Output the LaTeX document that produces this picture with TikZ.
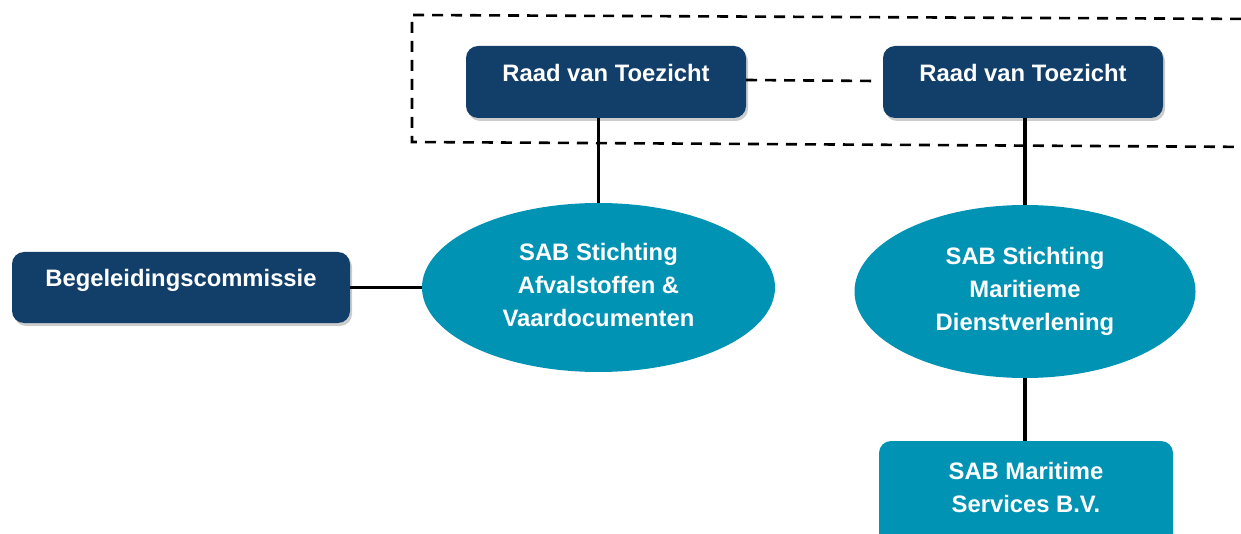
\documentclass[tikz,border=0pt]{standalone}
\usepackage{fontspec}
\setmainfont{Liberation Sans}
\usetikzlibrary{shapes.geometric,shadows}
\definecolor{navy}{HTML}{123F6A}
\definecolor{teal}{HTML}{0093B4}
\begin{document}
\begin{tikzpicture}[x=1pt,y=-1pt,
  lbl/.style={font=\fontsize{23.8}{33}\selectfont\bfseries, text=white, align=center},
  navybox/.style={lbl, fill=navy, rounded corners=12pt, inner sep=0pt,
    drop shadow={opacity=0.4, shadow xshift=2pt, shadow yshift=-3pt}},
  tealoval/.style={lbl, ellipse, fill=teal, inner sep=0pt},
  tealbox/.style={lbl, fill=teal, rounded corners=12pt, inner sep=0pt},
  conn/.style={line width=3.2pt, black},
  dashln/.style={line width=2.6pt, black, dash pattern=on 11pt off 8pt}]
\useasboundingbox (0,0) rectangle (1241,534);
\clip (0,0) rectangle (1241,534);
% dashed frame
\coordinate (f1) at (1260,19);
\coordinate (f2) at (412,15);
\coordinate (f3) at (412,142);
\coordinate (f4) at (1260,147);
\draw[dashln] (f1) -- (f2) -- (f3) -- (f4);
% boxes
\node[navybox, minimum width=280pt, text height=35.5pt, text depth=36.5pt] (rvt1) at (606,82) {Raad van Toezicht};
\node[navybox, minimum width=280pt, text height=35.5pt, text depth=36.5pt] (rvt2) at (1023,82) {Raad van Toezicht};
\node[navybox, minimum width=338pt, text height=34.5pt, text depth=36.5pt] (beg) at (181,287.5) {Begeleidingscommissie};
\node[tealoval, minimum width=353pt, minimum height=169pt] (saf) at (598.5,287.5) {SAB Stichting\\Afvalstoffen \&\\Vaardocumenten\\[-27pt]\mbox{}};
\node[tealoval, minimum width=341pt, minimum height=173pt] (smd) at (1025,291.5) {SAB Stichting\\Maritieme\\Dienstverlening\\[-27pt]\mbox{}};
\node[tealbox, minimum width=294pt, minimum height=104pt] (sms) at (1026,493) {SAB Maritime\\Services B.V.\\[-21pt]\mbox{}};
% connectors
\coordinate (d1) at (746,80);
\coordinate (d2) at (875,81);
\draw[dashln] (d1) -- (d2);
\draw[conn] (rvt1.south -| saf.north) -- (saf.north);
\draw[conn] (rvt2.south -| smd.north) -- (smd.north);
\draw[conn] (beg.east) -- (saf.west);
\draw[conn] (smd.south) -- (smd.south |- sms.north);
\end{tikzpicture}
\end{document}
